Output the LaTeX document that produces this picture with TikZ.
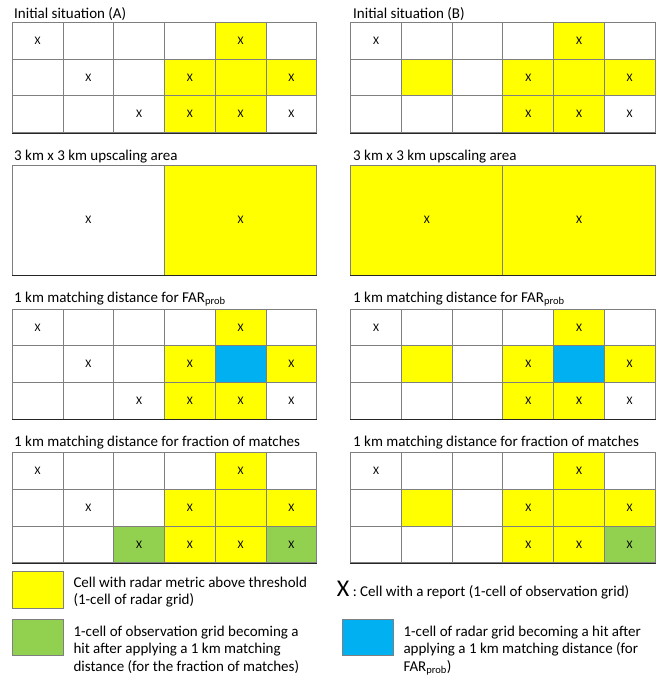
\documentclass[tikz,border=0pt]{standalone}
\usepackage{fontspec}
\setmainfont{Carlito}
\definecolor{yel}{HTML}{FFFF00}
\definecolor{blu}{HTML}{00B0F0}
\definecolor{grn}{HTML}{92D050}
\definecolor{gline}{HTML}{7F7F7F}
\newcommand\cw{50.73}
\newcommand\ch{36.8}
\newcommand\setcells[3]{\foreach \rc in {#3}{\expandafter\xdef\csname fc@#1-\rc\endcsname{#2}}}
\newcommand\setxs[2]{\foreach \rc in {#2}{\expandafter\xdef\csname xm@#1-\rc\endcsname{X}}}
\newcommand\cellgrid[3]{%
 \foreach \r in {1,2,3}{\foreach \c in {1,...,6}{%
  \edef\fc{\ifcsname fc@#1-\r-\c\endcsname\csname fc@#1-\r-\c\endcsname\else white\fi}%
  \edef\xc{\ifcsname xm@#1-\r-\c\endcsname X\fi}%
  \node[cell,fill=\fc] (#1-\r-\c) at ({#2+(\c-0.5)*\cw},{#3+(\r-0.5)*\ch}) {\xc};
 }}%
 \draw[border] (#1-3-1.south west) -- (#1-3-6.south east);
}
% initial A
\setcells{IA}{yel}{1-5,2-4,2-5,2-6,3-4,3-5}
\setxs{IA}{1-1,1-5,2-2,2-4,2-6,3-3,3-4,3-5,3-6}
% initial B
\setcells{IB}{yel}{1-5,2-2,2-4,2-5,2-6,3-4,3-5}
\setxs{IB}{1-1,1-5,2-4,2-6,3-4,3-5,3-6}
% FAR A
\setcells{FA}{yel}{1-5,2-4,2-6,3-4,3-5}
\setcells{FA}{blu}{2-5}
\setxs{FA}{1-1,1-5,2-2,2-4,2-6,3-3,3-4,3-5,3-6}
% FAR B
\setcells{FB}{yel}{1-5,2-2,2-4,2-6,3-4,3-5}
\setcells{FB}{blu}{2-5}
\setxs{FB}{1-1,1-5,2-4,2-6,3-4,3-5,3-6}
% fraction A
\setcells{MA}{yel}{1-5,2-4,2-5,2-6,3-4,3-5}
\setcells{MA}{grn}{3-3,3-6}
\setxs{MA}{1-1,1-5,2-2,2-4,2-6,3-3,3-4,3-5,3-6}
% fraction B
\setcells{MB}{yel}{1-5,2-2,2-4,2-5,2-6,3-4,3-5}
\setcells{MB}{grn}{3-6}
\setxs{MB}{1-1,1-5,2-4,2-6,3-4,3-5,3-6}
\begin{document}
\begin{tikzpicture}[x=1pt,y=-1pt,
  cell/.style={rectangle,draw=gline,line width=0.9pt,minimum width=\cw pt,minimum height=\ch pt,inner sep=0pt,font=\fontsize{11.5}{12}\selectfont},
  bigcell/.style={rectangle,draw=gline,line width=0.9pt,minimum width=152.2pt,minimum height=110pt,inner sep=0pt,font=\fontsize{11.5}{12}\selectfont},
  border/.style={draw=black!85,line width=1.2pt},
  ttl/.style={anchor=base west,inner sep=0pt,font=\fontsize{15}{17}\selectfont},
  legbox/.style={rectangle,draw=gline,line width=0.9pt,minimum width=50.6pt,minimum height=36.6pt,inner sep=0pt},
  legtxt/.style={anchor=base west,inner sep=0pt,font=\fontsize{15}{17.5}\selectfont}]
\useasboundingbox (0,0) rectangle (659,675);
% titles
\node[ttl] (tIA) at (14,18.5) {Initial situation (A)};
\node[ttl] (tIB) at (353,18.5) {Initial situation (B)};
\node[ttl] (tUA) at (14,160) {3 km x 3 km upscaling area};
\node[ttl] (tUB) at (353,160) {3 km x 3 km upscaling area};
\node[ttl] (tFA) at (14,302) {1 km matching distance for FAR\textsubscript{prob}};
\node[ttl] (tFB) at (353,302) {1 km matching distance for FAR\textsubscript{prob}};
\node[ttl] (tMA) at (14,446.5) {1 km matching distance for fraction of matches};
\node[ttl] (tMB) at (353,446.5) {1 km matching distance for fraction of matches};
% grids
\cellgrid{IA}{12.3}{22.3}
\cellgrid{IB}{350.7}{22.3}
\cellgrid{FA}{12.3}{309}
\cellgrid{FB}{350.7}{309}
\cellgrid{MA}{12.3}{452.5}
\cellgrid{MB}{350.7}{452.5}
% upscaling
\node[bigcell,fill=white] (UA1) at (88.4,220) {X};
\node[bigcell,fill=yel] (UA2) at (240.6,220) {X};
\draw[border] (UA1.south west) -- (UA2.south east);
\node[bigcell,fill=yel] (UB1) at (426.8,220) {X};
\node[bigcell,fill=yel] (UB2) at (579,220) {X};
\draw[border] (UB1.south west) -- (UB2.south east);
% legend
\node[legbox,fill=yel] (ly) at (38,590) {};
\node[legtxt] (lyt) at (73.3,587.3) {\parbox[t]{260pt}{\raggedright Cell with radar metric above threshold\\(1-cell of radar grid)}};
\node[legbox,fill=grn] (lg) at (38,637.5) {};
\node[legtxt] (lgt) at (73.3,636) {\parbox[t]{260pt}{\raggedright 1-cell of observation grid becoming a\\hit after applying a 1 km matching\\distance (for the fraction of matches)}};
\node[legtxt] (lx) at (336.7,596) {{\fontsize{24}{24}\selectfont X} : Cell with a report (1-cell of observation grid)};
\node[legbox,fill=blu] (lb) at (367.8,637.5) {};
\node[legtxt] (lbt) at (403.3,636) {\parbox[t]{260pt}{\raggedright 1-cell of radar grid becoming a hit after\\applying a 1 km matching distance (for\\FAR\textsubscript{prob})}};
\end{tikzpicture}
\end{document}
